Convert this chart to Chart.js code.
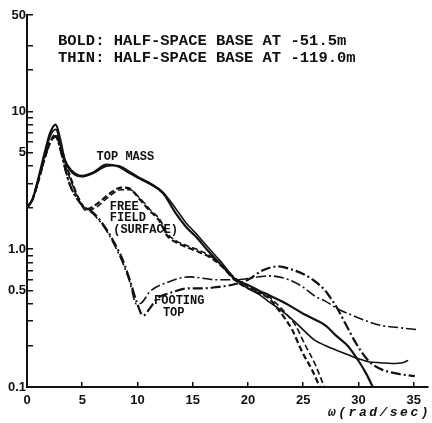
<!DOCTYPE html>
<html>
<head>
<meta charset="utf-8">
<script src="https://cdn.jsdelivr.net/npm/chart.js@4/dist/chart.umd.min.js"></script>
<style>
  body { margin: 0; background: #fff; }
  #chart { display: block; }
</style>
</head>
<body>
<canvas id="chart" width="432" height="423"></canvas>
<script>
// ==========================
// データ
// ==========================
const xTicks = [0, 5, 10, 15, 20, 25, 30, 35];
const yTicks = [0.1, 0.2, 0.3, 0.4, 0.5, 0.6, 0.7, 0.8, 0.9, 1, 2, 3, 4, 5, 6, 7, 8, 9, 10, 20, 30, 50];
const yLabels = { 0.1: "0.1", 0.5: "0.5", 1: "1.0", 5: "5", 10: "10", 50: "50" };

const headerLines = ["BOLD: HALF-SPACE BASE AT -51.5m", "THIN: HALF-SPACE BASE AT -119.0m"];
const xTitle = "ω(rad/sec)";

// TOP MASS（実線）
const topBoldW = [0, 0.5, 1, 1.6, 2.1, 2.6, 3.0, 3.4, 4.05, 5.0, 6.0, 7.2, 8.2, 9.2, 10.2, 11.2, 12.3, 13.5, 14.4, 15.3, 16.3, 17.5, 18.9, 20, 21, 22, 23, 24, 25, 26, 27, 28, 29, 30, 30.7, 31.3];
const topBold = [2.0, 2.3, 3.2, 5.0, 7.0, 8.0, 6.3, 4.5, 3.7, 3.4, 3.6, 4.1, 4.0, 3.6, 3.25, 2.95, 2.55, 1.8, 1.45, 1.23, 0.99, 0.78, 0.6, 0.55, 0.5, 0.46, 0.42, 0.38, 0.34, 0.31, 0.28, 0.235, 0.2, 0.155, 0.125, 0.1];
const topThinW = [0, 0.5, 1, 1.6, 2.1, 2.6, 3.0, 3.4, 4.05, 5.0, 6.0, 7.2, 8.2, 9.2, 10.2, 11.2, 12.3, 13.5, 14.4, 15.3, 16.3, 17.5, 18.9, 20, 21, 22, 23, 24, 25, 26, 27, 28, 29, 30, 31, 32, 33, 34, 34.5];
const topThin = [2.0, 2.3, 3.1, 4.8, 6.6, 7.4, 6.0, 4.4, 3.6, 3.35, 3.55, 4.0, 4.05, 3.7, 3.3, 3.0, 2.6, 1.95, 1.55, 1.3, 1.05, 0.82, 0.6, 0.52, 0.47, 0.41, 0.36, 0.31, 0.26, 0.22, 0.2, 0.185, 0.172, 0.16, 0.152, 0.15, 0.148, 0.15, 0.156];

// FREE FIELD (SURFACE)（破線）
const freeBoldW = [0, 0.5, 1, 1.6, 2.1, 2.6, 3.0, 3.5, 4.0, 4.6, 5.4, 6.4, 7.4, 8.5, 9.3, 10.2, 11.1, 12.0, 12.7, 13.5, 14.5, 15.6, 16.5, 17.5, 18.8, 19.8, 20.7, 21.9, 22.8, 23.4, 24.0, 24.9, 25.8, 26.5];
const freeBold = [2.0, 2.3, 3.1, 4.6, 6.0, 6.8, 5.8, 4.2, 3.2, 2.4, 1.95, 2.15, 2.5, 2.8, 2.75, 2.3, 1.9, 1.6, 1.25, 1.12, 1.03, 0.95, 0.88, 0.77, 0.6, 0.53, 0.49, 0.44, 0.36, 0.31, 0.26, 0.18, 0.133, 0.1];
const freeThinW = [0, 0.5, 1, 1.6, 2.1, 2.6, 3.0, 3.5, 4.0, 4.6, 5.4, 6.4, 7.4, 8.5, 9.3, 10.2, 11.1, 12.0, 12.7, 13.5, 14.5, 15.6, 16.5, 17.5, 18.8, 19.8, 20.7, 21.9, 22.9, 23.6, 24.3, 25.2, 26.1, 26.9];
const freeThin = [2.0, 2.3, 3.0, 4.5, 5.9, 6.6, 5.6, 4.0, 3.1, 2.35, 1.9, 2.05, 2.4, 2.7, 2.7, 2.35, 1.95, 1.65, 1.3, 1.15, 1.06, 0.98, 0.9, 0.79, 0.62, 0.55, 0.5, 0.45, 0.38, 0.33, 0.28, 0.2, 0.145, 0.1];

// FOOTING TOP（一点鎖線）
const footBoldW = [0, 0.5, 1, 1.6, 2.1, 2.6, 3.0, 3.5, 3.9, 4.95, 6.0, 7.2, 8.1, 8.65, 9.3, 9.9, 10.5, 11.2, 11.8, 12.9, 14.7, 16.0, 17.1, 18.5, 20.0, 21.3, 22.7, 24.0, 25.0, 26.0, 26.9, 27.5, 28.1, 28.8, 29.9, 30.9, 32.0, 33.5, 35.1];
const footBold = [2.0, 2.3, 3.1, 4.6, 6.0, 6.6, 5.4, 3.7, 2.9, 2.1, 1.84, 1.39, 1.04, 0.84, 0.6, 0.42, 0.33, 0.38, 0.44, 0.48, 0.52, 0.52, 0.53, 0.55, 0.6, 0.7, 0.75, 0.71, 0.66, 0.59, 0.51, 0.44, 0.37, 0.29, 0.2, 0.155, 0.135, 0.125, 0.12];
const footThinW = [0, 0.5, 1, 1.6, 2.1, 2.6, 3.0, 3.5, 3.9, 4.95, 6.0, 7.2, 8.1, 8.65, 9.3, 9.9, 10.4, 11.1, 12.6, 14.7, 17.1, 19.0, 21.0, 22.0, 23.7, 25.0, 26.0, 27.0, 28.1, 29.5, 30.8, 32.0, 33.6, 35.4];
const footThin = [2.0, 2.3, 3.1, 4.6, 6.0, 6.5, 5.3, 3.7, 2.9, 2.1, 1.8, 1.36, 1.0, 0.8, 0.58, 0.4, 0.41, 0.49, 0.57, 0.63, 0.6, 0.6, 0.63, 0.64, 0.6, 0.53, 0.46, 0.42, 0.37, 0.33, 0.3, 0.28, 0.27, 0.26];

// 曲線横の注記 [テキスト, ω, 値]
const curveNotes = [
  ["TOP MASS", 6.3, 4.4],
  ["FREE", 7.5, 1.94],
  ["FIELD", 7.5, 1.61],
  ["(SURFACE)", 7.8, 1.32],
  ["FOOTING", 11.5, 0.40],
  ["TOP", 12.3, 0.325]
];
// 見出し位置 [ω, 値]
const headerPos = [[2.8, 30.2], [2.8, 22.7]];

const pairs = (w, v) => w.map((x, i) => ({ x, y: v[i] }));

function series(w, v, width, dash) {
  return {
    data: pairs(w, v),
    borderColor: "#111",
    borderWidth: width,
    borderDash: dash,
    pointRadius: 0,
    fill: false,
    cubicInterpolationMode: "monotone"
  };
}

const DASH = [6, 3];
const DASHDOT = [10, 3, 2, 3];

// ==========================
// 文字描画プラグイン
// ==========================
const textPlugin = {
  id: "texts",
  beforeDraw(chart) {
    const c = chart.ctx;
    c.save();
    c.fillStyle = "#fff";
    c.fillRect(0, 0, chart.width, chart.height);
    c.restore();
  },
  afterDraw(chart) {
    const c = chart.ctx;
    const xs = chart.scales.x, ys = chart.scales.y;
    c.save();
    c.fillStyle = "#111";
    c.textBaseline = "alphabetic";
    c.font = "bold 15.5px 'Liberation Mono'";
    headerLines.forEach((t, i) => {
      c.fillText(t, xs.getPixelForValue(headerPos[i][0]), ys.getPixelForValue(headerPos[i][1]));
    });
    c.font = "bold 12px 'Liberation Mono'";
    curveNotes.forEach(([t, x, y]) => {
      c.fillText(t, xs.getPixelForValue(x), ys.getPixelForValue(y));
    });
    // 横軸タイトル
    c.font = "italic bold 13px 'Liberation Mono'";
    c.letterSpacing = "2.5px";
    c.textAlign = "right";
    c.fillText(xTitle, chart.width - 1, xs.bottom - 7);
    c.restore();
  }
};

// ==========================
// グラフ
// ==========================
new Chart(document.getElementById("chart"), {
  type: "line",
  data: {
    datasets: [
      series(topThinW, topThin, 1.6, []),
      series(freeThinW, freeThin, 1.6, DASH),
      series(footThinW, footThin, 1.6, DASHDOT),
      series(topBoldW, topBold, 2.2, []),
      series(freeBoldW, freeBold, 2.2, DASH),
      series(footBoldW, footBold, 2.2, DASHDOT)
    ]
  },
  options: {
    responsive: false,
    animation: false,
    devicePixelRatio: 1,
    layout: { padding: { top: 15, right: 2, left: 0, bottom: 0 } },
    plugins: { legend: { display: false }, tooltip: { enabled: false } },
    scales: {
      x: {
        type: "linear",
        min: 0,
        max: 36.3,
        afterBuildTicks: s => { s.ticks = xTicks.map(v => ({ value: v })); },
        afterFit: s => { s.height = 36; },
        grid: { display: true, drawOnChartArea: false, drawTicks: true, tickLength: -5, color: "#111", lineWidth: 1.5 },
        border: { display: true, color: "#111", width: 2 },
        ticks: {
          autoSkip: false,
          maxRotation: 0,
          padding: 11,
          color: "#111",
          font: { family: "'Liberation Sans'", size: 13, weight: "bold" },
          callback: v => String(v)
        }
      },
      y: {
        type: "logarithmic",
        min: 0.1,
        max: 50,
        afterBuildTicks: s => { s.ticks = yTicks.map(v => ({ value: v })); },
        afterFit: s => { s.width = 27; },
        grid: { display: true, drawOnChartArea: false, drawTicks: true, tickLength: -6, color: "#111", lineWidth: 1.5 },
        border: { display: true, color: "#111", width: 2 },
        ticks: {
          autoSkip: false,
          padding: 7,
          color: "#111",
          font: { family: "'Liberation Sans'", size: 13, weight: "bold" },
          callback: v => yLabels[v] || ""
        }
      }
    }
  },
  plugins: [textPlugin]
});
</script>
</body>
</html>
